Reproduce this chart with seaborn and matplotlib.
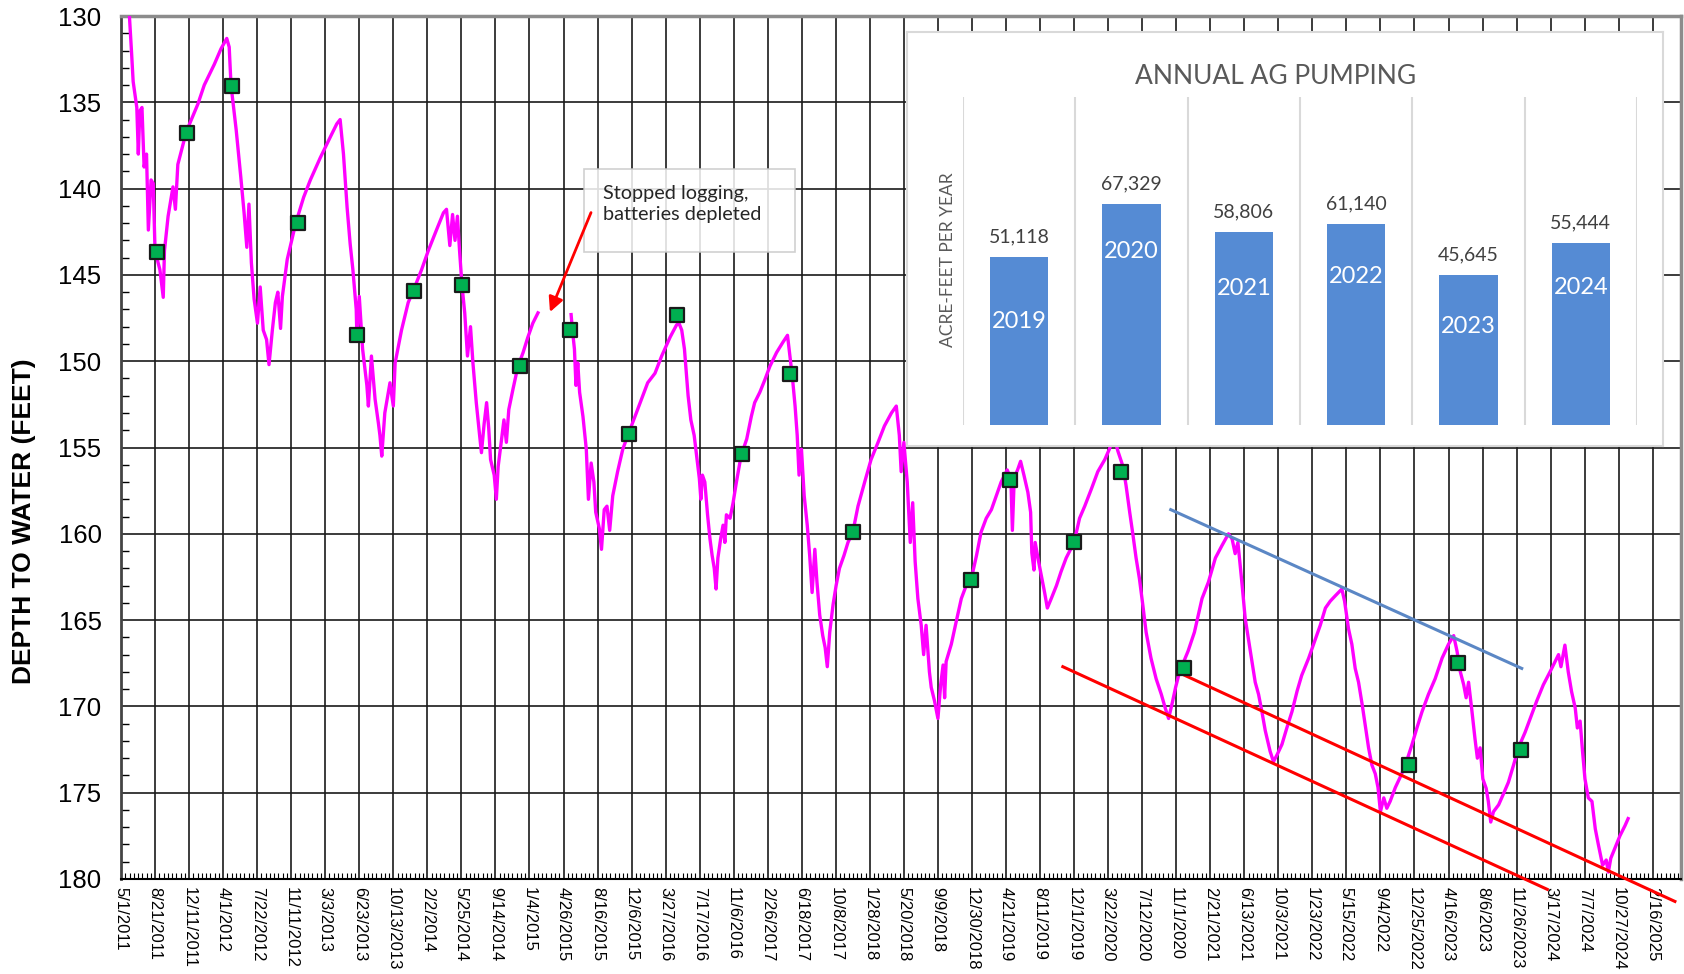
import matplotlib
matplotlib.use("Agg")
import matplotlib.pyplot as plt
import matplotlib.dates as mdates
from matplotlib.patches import Rectangle
from matplotlib.ticker import MultipleLocator, FixedLocator
import numpy as np
import pandas as pd
import seaborn as sns

# ---------------------------------------------------------------
# data (days counted from the logger start date 5/1/2011)
# ---------------------------------------------------------------
START = pd.Timestamp("2011-05-01")

# logger trace, part 1 (until the batteries ran out)
logger1_days = [26, 35, 40, 52, 57, 62, 69, 76, 84, 90,
                99, 106, 112, 128, 139, 143, 155, 171, 179, 187,
                215, 253, 274, 307, 329, 348, 356, 362, 379, 394,
                405, 414, 421, 429, 438, 449, 458, 468, 479, 487,
                498, 508, 516, 525, 531, 547, 575, 601, 623, 656,
                689, 710, 721, 732, 744, 754, 763, 774, 776, 784,
                795, 809, 814, 824, 836, 847, 852, 858, 868, 885,
                896, 902, 923, 945, 962, 989, 1011, 1038, 1061, 1071,
                1082, 1091, 1099, 1107, 1114, 1122, 1131, 1140, 1150, 1158,
                1169, 1180, 1186, 1195, 1203, 1210, 1216, 1228, 1235, 1241,
                1251, 1260, 1268, 1276, 1290, 1306, 1323, 1338, 1355, 1372]
logger1_depth = [129.5, 132.2, 133.8, 135.3, 138.0, 135.5, 135.3, 138.75, 138.0, 142.4,
                 139.5, 139.7, 143.6, 144.7, 146.3, 143.6, 141.6, 139.9, 141.2, 138.6,
                 136.7, 135.1, 134.0, 132.8, 131.9, 131.3, 131.8, 134.0, 136.6, 139.3,
                 141.4, 143.4, 140.9, 144.3, 146.4, 147.8, 145.7, 148.2, 148.75, 150.2,
                 148.2, 146.6, 146.0, 148.1, 146.25, 144.1, 142.0, 140.5, 139.5, 138.2,
                 137.0, 136.25, 136.0, 138.0, 141.1, 143.2, 144.7, 147.0, 148.5, 146.25,
                 149.3, 151.4, 152.6, 149.7, 152.2, 153.6, 154.3, 155.5, 153.0, 151.25,
                 152.6, 150.1, 148.2, 146.6, 145.9, 144.7, 143.6, 142.4, 141.4, 141.2,
                 143.3, 141.5, 143.0, 141.6, 143.6, 145.6, 147.2, 149.7, 148.0, 150.1,
                 152.4, 154.3, 155.3, 153.6, 152.4, 153.9, 155.7, 156.6, 158.0, 156.1,
                 154.7, 153.4, 154.7, 152.8, 151.6, 150.3, 149.5, 148.65, 147.8, 147.2]

# logger trace, part 2 (after restart)
logger2_days = [1481, 1486, 1492, 1497, 1503, 1509, 1520, 1531, 1538, 1547,
                1556, 1562, 1574, 1581, 1590, 1599, 1608, 1618, 1634, 1651,
                1672, 1700, 1733, 1757, 1779, 1807, 1828, 1836, 1845, 1854,
                1861, 1866, 1875, 1886, 1894, 1903, 1908, 1913, 1921, 1930,
                1938, 1945, 1952, 1958, 1964, 1973, 1981, 1987, 1992, 2004,
                2014, 2025, 2040, 2059, 2074, 2085, 2102, 2118, 2135, 2157,
                2178, 2193, 2201, 2209, 2218, 2225, 2231, 2239, 2248, 2258,
                2266, 2274, 2283, 2290, 2299, 2309, 2317, 2324, 2332, 2343,
                2353, 2364, 2379, 2392, 2408, 2425, 2447, 2468, 2491, 2512,
                2535, 2551, 2561, 2567, 2576, 2587, 2597, 2605, 2613, 2622,
                2633, 2641, 2649, 2660, 2666, 2677, 2688, 2697, 2705, 2710,
                2715, 2732, 2748, 2765, 2781, 2798, 2815, 2830, 2847, 2864,
                2880, 2896, 2916, 2928, 2933, 2939, 2951, 2960, 2971, 2984,
                2993, 2997, 3004, 3008, 3017, 3028, 3039, 3048, 3061, 3078,
                3093, 3110, 3136, 3154, 3171, 3193, 3214, 3237, 3252, 3267,
                3280, 3297, 3307, 3319, 3330, 3340, 3351, 3362, 3373, 3389,
                3406, 3423, 3436, 3447, 3459, 3470, 3483, 3511, 3532, 3557,
                3578, 3601, 3622, 3644, 3656, 3666, 3675, 3688, 3699, 3716,
                3732, 3743, 3754, 3765, 3781, 3792, 3804, 3820, 3836, 3853,
                3870, 3885, 3908, 3930, 3946, 3963, 3979, 3995, 4017, 4026,
                4039, 4050, 4061, 4072, 4084, 4094, 4105, 4116, 4127, 4136,
                4144, 4155, 4165, 4176, 4193, 4209, 4226, 4248, 4264, 4281,
                4302, 4324, 4347, 4368, 4385, 4396, 4407, 4418, 4426, 4434,
                4444, 4455, 4463, 4472, 4481, 4492, 4499, 4507, 4516, 4533,
                4548, 4565, 4582, 4598, 4620, 4637, 4658, 4680, 4702, 4719,
                4730, 4738, 4751, 4762, 4773, 4785, 4792, 4801, 4809, 4817,
                4828, 4840, 4851, 4861, 4875, 4887, 4894, 4902, 4916, 4932,
                4949, 4959]
logger2_depth = [147.3, 148.3, 149.3, 151.4, 150.1, 151.8, 153.2, 155.1, 158.0, 155.9,
                 157.0, 158.75, 159.7, 160.9, 158.6, 158.4, 159.8, 157.8, 156.4, 155.1,
                 154.1, 152.8, 151.25, 150.7, 149.7, 148.6, 147.9, 147.8, 148.2, 149.3,
                 150.9, 152.0, 153.4, 154.3, 155.5, 156.8, 158.0, 156.6, 157.0, 158.9,
                 160.3, 161.25, 162.0, 163.2, 161.4, 160.3, 159.5, 160.5, 158.9, 159.1,
                 158.2, 157.0, 155.5, 154.5, 153.2, 152.4, 151.8, 151.1, 150.3, 149.5,
                 148.9, 148.5, 149.7, 150.9, 152.6, 154.3, 156.6, 155.1, 157.8, 159.5,
                 161.25, 163.4, 160.9, 162.8, 164.7, 165.9, 166.6, 167.7, 165.7, 164.1,
                 163.0, 162.0, 161.25, 160.5, 159.9, 158.4, 157.0, 155.7, 154.7, 153.75,
                 153.0, 152.6, 154.3, 156.4, 154.7, 157.0, 160.5, 158.2, 161.6, 163.75,
                 165.3, 167.0, 165.3, 168.0, 168.9, 169.7, 170.7, 168.75, 167.6, 169.5,
                 167.4, 166.4, 165.1, 163.75, 163.0, 162.6, 161.25, 159.9, 159.1, 158.6,
                 157.8, 157.0, 156.3, 156.8, 159.8, 156.8, 156.25, 155.8, 156.6, 157.6,
                 158.75, 161.1, 162.1, 160.5, 161.4, 162.4, 163.4, 164.3, 163.75, 163.0,
                 162.2, 161.4, 160.5, 159.1, 158.4, 157.4, 156.4, 155.7, 155.1, 154.3,
                 155.2, 156.1, 157.2, 158.75, 160.1, 161.4, 162.6, 164.1, 165.7, 167.2,
                 168.4, 169.3, 170.1, 170.7, 169.8, 168.9, 168.0, 166.8, 165.7, 163.75,
                 162.8, 161.4, 160.7, 160.0, 160.3, 161.15, 160.5, 162.8, 164.9, 166.8,
                 168.6, 169.3, 170.3, 171.4, 172.6, 173.2, 172.8, 172.2, 171.25, 170.3,
                 169.1, 168.2, 167.2, 166.1, 165.3, 164.3, 163.9, 163.6, 163.2, 163.9,
                 165.5, 166.4, 167.8, 168.6, 169.9, 171.1, 172.4, 173.4, 173.9, 174.7,
                 176.1, 175.3, 175.9, 175.5, 174.7, 174.1, 173.4, 172.2, 171.25, 170.3,
                 169.3, 168.4, 167.2, 166.4, 165.9, 166.8, 168.0, 168.75, 169.5, 168.6,
                 170.1, 171.85, 173.0, 172.4, 174.2, 174.75, 175.5, 176.7, 176.1, 175.7,
                 175.1, 174.4, 173.4, 172.4, 171.5, 170.7, 169.7, 168.75, 168.0, 167.4,
                 167.0, 167.7, 166.45, 168.0, 169.15, 170.1, 171.25, 170.85, 172.6, 174.2,
                 175.3, 175.5, 177.1, 178.0, 179.2, 178.9, 179.6, 178.8, 178.2, 177.5,
                 176.9, 176.5]

# hand measurements (green squares)
manual_days = [117, 217, 364, 581, 775, 964, 1122, 1312, 1477, 1672, 1831,
               2042, 2202, 2408, 2796, 2925, 3136, 3292, 3498, 4237, 4398, 4607]
manual_depth = [143.7, 136.8, 134.06, 142.0, 148.5, 145.96, 145.6, 150.3, 148.2, 154.2, 147.35,
                155.4, 150.75, 159.9, 162.7, 156.9, 160.5, 156.4, 167.8, 173.4, 167.5, 172.5]

# trend lines drawn on the chart
upper_trend_days = [3454, 4609]
upper_trend_depth = [158.6, 167.8]
lower_trend1_days = [3099, 4693]
lower_trend1_depth = [167.7, 180.6]
lower_trend2_days = [3500, 5113]
lower_trend2_depth = [168.2, 181.3]

tick_labels = ["5/1/2011", "8/21/2011", "12/11/2011", "4/1/2012", "7/22/2012", "11/11/2012",
               "3/3/2013", "6/23/2013", "10/13/2013", "2/2/2014", "5/25/2014", "9/14/2014",
               "1/4/2015", "4/26/2015", "8/16/2015", "12/6/2015", "3/27/2016", "7/17/2016",
               "11/6/2016", "2/26/2017", "6/18/2017", "10/8/2017", "1/28/2018", "5/20/2018",
               "9/9/2018", "12/30/2018", "4/21/2019", "8/11/2019", "12/1/2019", "3/22/2020",
               "7/12/2020", "11/1/2020", "2/21/2021", "6/13/2021", "10/3/2021", "1/23/2022",
               "5/15/2022", "9/4/2022", "12/25/2022", "4/16/2023", "8/6/2023", "11/26/2023",
               "3/17/2024", "7/7/2024", "10/27/2024", "2/16/2025"]

# inset: annual ag pumping
pump_years = ["2019", "2020", "2021", "2022", "2023", "2024"]
pump_acre_feet = [51118, 67329, 58806, 61140, 45645, 55444]
year_label_height = [0.62, 0.785, 0.71, 0.74, 0.655, 0.755]  # where the year sits inside its bar

# ---------------------------------------------------------------
def to_date(days):
    return START + pd.to_timedelta(np.asarray(days, dtype=float), unit="D")


arial = ["Liberation Sans", "DejaVu Sans"]
calibri_like = ["Lato", "DejaVu Sans"]

logger = pd.concat([
    pd.DataFrame({"date": to_date(logger1_days), "depth": logger1_depth, "segment": 1}),
    pd.DataFrame({"date": to_date(logger2_days), "depth": logger2_depth, "segment": 2}),
], ignore_index=True)
manual = pd.DataFrame({"date": to_date(manual_days), "depth": manual_depth})

W, H = 1684, 974
fig = plt.figure(figsize=(W / 100, H / 100), dpi=100)
ax = fig.add_axes([121 / W, 1 - 879 / H, 1560 / W, 863 / H])

sns.lineplot(data=logger, x="date", y="depth", units="segment", estimator=None, sort=False,
             color="#FF00FF", linewidth=2.4, legend=False, ax=ax, zorder=3)
sns.scatterplot(data=manual, x="date", y="depth", marker="s", s=95, color="#00B050",
                edgecolor="#1a1a1a", linewidth=1.6, legend=False, ax=ax, zorder=5)

# trend lines
ax.plot(to_date(upper_trend_days), upper_trend_depth, color="#5B87C5", lw=2.2, zorder=4)
ax.plot(to_date(lower_trend1_days), lower_trend1_depth, color="#FF0000", lw=2.2, zorder=4, clip_on=False)
ax.plot(to_date(lower_trend2_days), lower_trend2_depth, color="#FF0000", lw=2.2, zorder=4, clip_on=False)

# axes
ax.set_ylim(180, 130)
ax.set_xlim(START, START + pd.Timedelta(days=5133))
ax.set_yticks(np.arange(130, 181, 5))
ax.yaxis.set_minor_locator(MultipleLocator(1))
tick_dates = pd.to_datetime(tick_labels, format="%m/%d/%Y")
ax.set_xticks(tick_dates)
ax.set_xticklabels(tick_labels, rotation=270, fontsize=12, family=arial)
minor_dates = pd.date_range(START, START + pd.Timedelta(days=5133), freq="14D")
ax.xaxis.set_minor_locator(FixedLocator(mdates.date2num(minor_dates)))
for lab in ax.get_yticklabels():
    lab.set_fontfamily(arial)
    lab.set_fontsize(18.5)
ax.set_xlabel("")
ax.set_ylabel("")

ax.grid(True, which="major", color="#1a1a1a", linewidth=1.2)
ax.set_axisbelow(True)
ax.tick_params(axis="both", which="both", direction="in")
ax.tick_params(axis="y", which="major", length=0, pad=14)
ax.tick_params(axis="y", which="minor", length=6, width=1)
ax.tick_params(axis="x", which="major", length=0, pad=6)
ax.tick_params(axis="x", which="minor", length=4, width=0.8)
for side in ["top", "right"]:
    ax.spines[side].set_color("#8c8c8c")
    ax.spines[side].set_linewidth(2.5)
ax.spines["left"].set_color("#444444")
ax.spines["left"].set_linewidth(2)
ax.spines["bottom"].set_color("black")
ax.spines["bottom"].set_linewidth(1.5)

fig.text(24 / W, 1 - 521 / H, "DEPTH TO WATER (FEET)", rotation=90, fontsize=19,
         fontweight="bold", family=arial, ha="center", va="center")

# note about the data gap
d0 = mdates.date2num(START)
ax.add_patch(Rectangle((d0 + 1523, 138.86), 695, 4.81, facecolor="white", alpha=0.85,
                       edgecolor="#c8c8c8", linewidth=1.2, zorder=6))
ax.text(d0 + 1586, 140.9, "Stopped logging,\nbatteries depleted", family=calibri_like,
        fontsize=14.3, color="#262626", ha="left", va="center", linespacing=1.25, zorder=7)
ax.annotate("", xy=(d0 + 1408, 147.3), xytext=(d0 + 1550, 141.24),
            arrowprops=dict(arrowstyle="-|>", color="#FF0000", lw=2, mutation_scale=22),
            zorder=7)

# ---------------------------------------------------------------
# inset bar chart
# ---------------------------------------------------------------
box = fig.add_axes([907 / W, 1 - 446 / H, 756 / W, 414 / H])
box.set_zorder(5)
box.set_facecolor("white")
box.set_xticks([])
box.set_yticks([])
for sp in box.spines.values():
    sp.set_color("#d9d9d9")
    sp.set_linewidth(1.5)

bar_ax = fig.add_axes([963 / W, 1 - 425 / H, 674 / W, 328 / H])
bar_ax.set_zorder(6)
bar_ax.patch.set_visible(False)
sns.barplot(x=pump_years, y=pump_acre_feet, color="#558BD4", saturation=1, width=0.52, ax=bar_ax)
bar_ax.set_xlim(-0.5, 5.5)
bar_ax.set_ylim(0, 100000)
bar_ax.set_xticks(np.arange(-0.5, 6, 1), minor=True)
bar_ax.grid(True, which="minor", axis="x", color="#d9d9d9", linewidth=1.5)
bar_ax.set_axisbelow(True)
bar_ax.tick_params(which="both", length=0, labelbottom=False, labelleft=False)
bar_ax.set_xlabel("")
bar_ax.set_ylabel("")
for sp in bar_ax.spines.values():
    sp.set_visible(False)

for i, (yr, v, frac) in enumerate(zip(pump_years, pump_acre_feet, year_label_height)):
    bar_ax.annotate(f"{v:,}", (i, v), xytext=(0, 14.5), textcoords="offset points",
                    ha="center", va="center", fontsize=14, family=calibri_like, color="#404040")
    bar_ax.text(i, v * frac, yr, ha="center", va="center", fontsize=17,
                family=calibri_like, color="white")

fig.text(1276 / W, 1 - 77 / H, "ANNUAL AG PUMPING", fontsize=19, color="#595959",
         family=calibri_like, ha="center", va="center", zorder=10)
fig.text(948 / W, 1 - 260 / H, "ACRE-FEET PER YEAR", rotation=90, fontsize=12.5,
         color="#595959", family=calibri_like, ha="center", va="center", zorder=10)

fig.savefig("out.png", dpi=100)
